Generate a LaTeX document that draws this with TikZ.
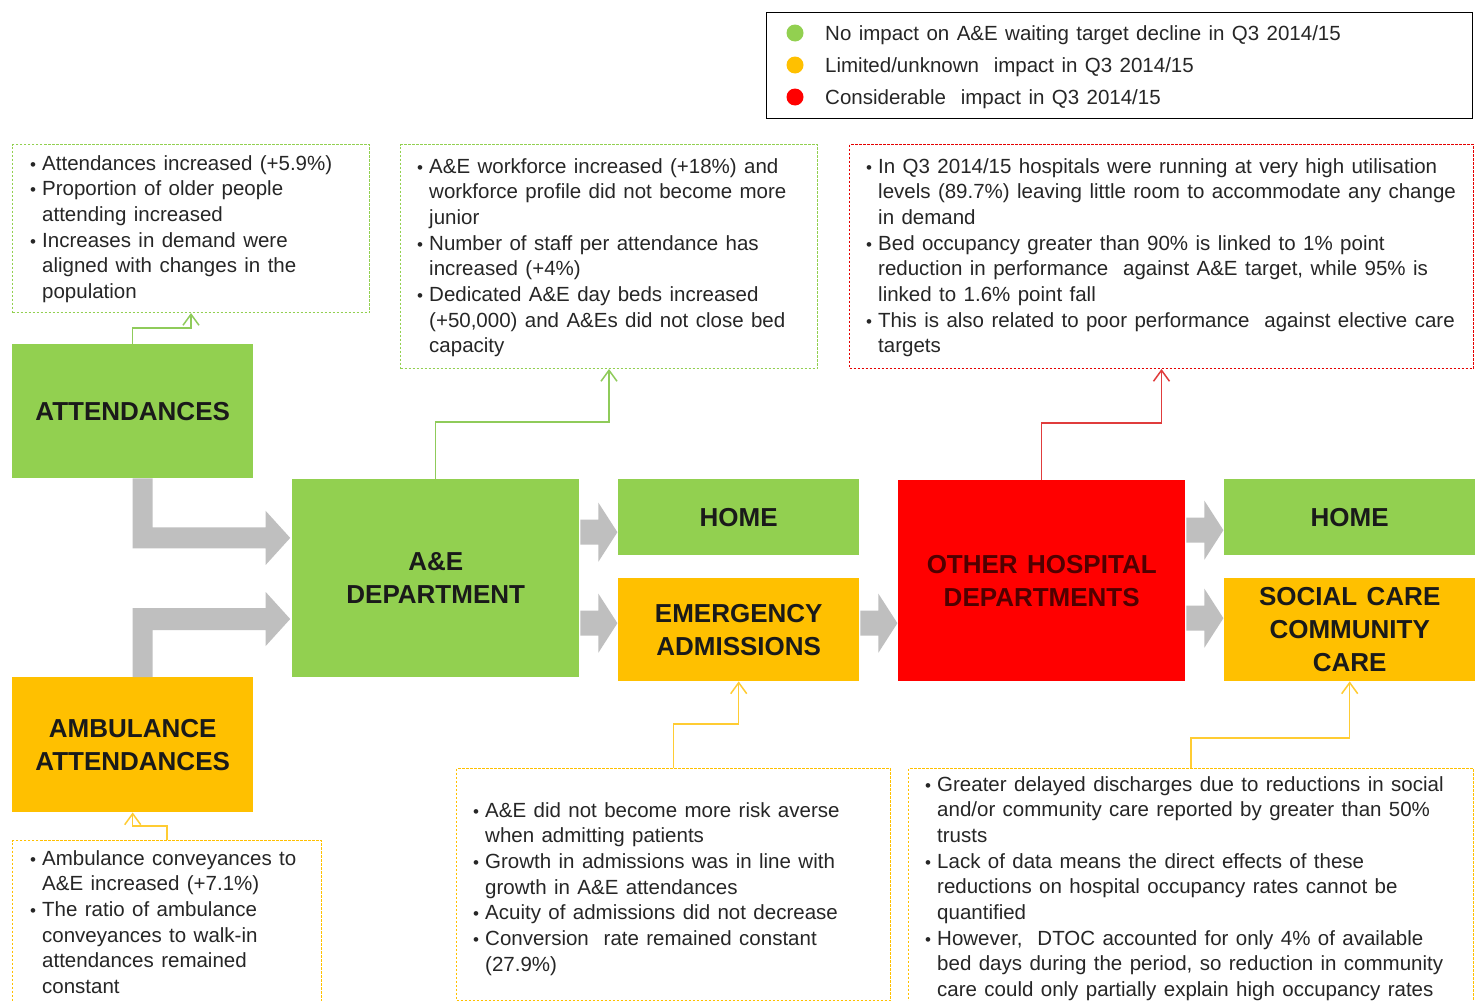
\documentclass[tikz,border=0pt]{standalone}
\usepackage{fontspec}
\setmainfont{Liberation Sans}[WordSpace=1.3]
\usetikzlibrary{arrows.meta}
\definecolor{cgreen}{HTML}{92D050}
\definecolor{camber}{HTML}{FFC000}
\definecolor{cred}{HTML}{FF0000}
\definecolor{cgray}{HTML}{BFBFBF}
\definecolor{ctext}{HTML}{262626}
\definecolor{cdarkred}{HTML}{500000}
\definecolor{cboxtext}{HTML}{1A1A1A}
\definecolor{cgline}{HTML}{8FCB5A}
\definecolor{caline}{HTML}{FFCC33}
\definecolor{crline}{HTML}{E03C3C}
\newcommand{\bul}{\makebox[12pt][l]{\fontsize{17}{17}\selectfont\textbullet}}
\newenvironment{notelist}{\fontsize{20.5}{25.7}\selectfont\color{ctext}\begin{tabular}[t]{@{}l@{}l@{}}}{\end{tabular}}
\newcommand{\shortarr}[1]{\fill[grayarr] (#1) ++(1,-12.5) -- ++(18,0) -- ++(0,-17) -- ++(19,29.5) -- ++(-19,29.5) -- ++(0,-17) -- ++(-18,0) -- cycle;}
\tikzset{
  colbox/.style={anchor=north west, inner sep=0, align=center,
    font=\fontsize{26}{33}\selectfont\bfseries},
  greenbox/.style={colbox, fill=cgreen, text=cboxtext},
  amberbox/.style={colbox, fill=camber, text=cboxtext},
  redbox/.style={colbox, fill=cred, text=cdarkred},
  notebox/.style={anchor=north west, inner sep=0, line width=1pt, dash pattern=on 2.5pt off 1.5pt},
  notegreen/.style={notebox, draw=cgreen},
  noteamber/.style={notebox, draw=camber},
  notered/.style={notebox, draw=cred!90!black},
  notetext/.style={anchor=base west, inner sep=0},
  conn/.style={line width=1.5pt, -{Straight Barb[length=11pt,width=16pt]}},
  gconn/.style={conn, draw=cgline},
  aconn/.style={conn, draw=caline},
  rconn/.style={conn, draw=crline},
  grayarr/.style={fill=cgray},
  legtext/.style={anchor=base west, inner sep=0, text=ctext, font=\fontsize{20.5}{25.7}\selectfont},
  dot/.style={circle, inner sep=0, minimum size=17pt}
}
\begin{document}
\begin{tikzpicture}[x=1pt,y=-1pt]
\useasboundingbox (0,0) rectangle (1475,1001);
\fill[white] (0,0) rectangle (1475,1001);

% legend
\node[anchor=north west, inner sep=0, draw=black, line width=1.2pt, minimum width=706pt, minimum height=106pt] (leg) at (766,12) {};
\node[dot, fill=cgreen] (d1) at (795,33) {};
\node[dot, fill=camber] (d2) at (795,65) {};
\node[dot, fill=cred] (d3) at (795,97) {};
\node[legtext] (l1) at (825,40) {No impact on A\&E waiting target decline in Q3 2014/15};
\node[legtext] (l2) at (825,72) {Limited/unknown \ impact in Q3 2014/15};
\node[legtext] (l3) at (825,104) {Considerable \ impact in Q3 2014/15};

% note frames
\node[notegreen, minimum width=357pt, minimum height=168pt] (n1) at (12,144) {};
\node[notegreen, minimum width=417pt, minimum height=224pt] (n2) at (400,144) {};
\node[notered, minimum width=624pt, minimum height=224pt] (n3) at (849,144) {};
\node[noteamber, minimum width=309pt, minimum height=180pt] (n4) at (12,840) {};
\node[noteamber, minimum width=434pt, minimum height=232pt] (n5) at (456,768) {};
\node[noteamber, minimum width=565pt, minimum height=250pt] (n6) at (908,768) {};

% note texts
\node[notetext] (t1) at (30,170) {\begin{notelist}
\bul & Attendances increased (+5.9\%)\\
\bul & Proportion of older people\\
 & attending increased\\
\bul & Increases in demand were\\
 & aligned with changes in the\\
 & population
\end{notelist}};
\node[notetext] (t2) at (417,173) {\begin{notelist}
\bul & A\&E workforce increased (+18\%) and\\
 & workforce profile did not become more\\
 & junior\\
\bul & Number of staff per attendance has\\
 & increased (+4\%)\\
\bul & Dedicated A\&E day beds increased\\
 & (+50,000) and A\&Es did not close bed\\
 & capacity
\end{notelist}};
\node[notetext] (t3) at (866,173) {\begin{notelist}
\bul & In Q3 2014/15 hospitals were running at very high utilisation\\
 & levels (89.7\%) leaving little room to accommodate any change\\
 & in demand\\
\bul & Bed occupancy greater than 90\% is linked to 1\% point\\
 & reduction in performance \ against A\&E target, while 95\% is\\
 & linked to 1.6\% point fall\\
\bul & This is also related to poor performance \ against elective care\\
 & targets
\end{notelist}};
\node[notetext] (t4) at (30,865) {\begin{notelist}
\bul & Ambulance conveyances to\\
 & A\&E increased (+7.1\%)\\
\bul & The ratio of ambulance\\
 & conveyances to walk-in\\
 & attendances remained\\
 & constant
\end{notelist}};
\node[notetext] (t5) at (473,817) {\begin{notelist}
\bul & A\&E did not become more risk averse\\
 & when admitting patients\\
\bul & Growth in admissions was in line with\\
 & growth in A\&E attendances\\
\bul & Acuity of admissions did not decrease\\
\bul & Conversion \ rate remained constant\\
 & (27.9\%)
\end{notelist}};
\node[notetext] (t6) at (925,791) {\begin{notelist}
\bul & Greater delayed discharges due to reductions in social\\
 & and/or community care reported by greater than 50\%\\
 & trusts\\
\bul & Lack of data means the direct effects of these\\
 & reductions on hospital occupancy rates cannot be\\
 & quantified\\
\bul & However, \ DTOC accounted for only 4\% of available\\
 & bed days during the period, so reduction in community\\
 & care could only partially explain high occupancy rates
\end{notelist}};

% coloured boxes
\node[greenbox, minimum width=241pt, minimum height=134pt] (att) at (12,344) {ATTENDANCES};
\node[greenbox, minimum width=287pt, minimum height=198pt] (ae) at (292,479) {A\&E\\DEPARTMENT};
\node[greenbox, minimum width=241pt, minimum height=76pt] (home1) at (618,479) {HOME};
\node[amberbox, minimum width=241pt, minimum height=103pt] (em) at (618,578) {EMERGENCY\\ADMISSIONS};
\node[redbox, minimum width=287pt, minimum height=201pt] (oth) at (898,480) {OTHER HOSPITAL\\DEPARTMENTS};
\node[greenbox, minimum width=251pt, minimum height=76pt] (home2) at (1224,479) {HOME};
\node[amberbox, minimum width=251pt, minimum height=103pt] (soc) at (1224,578) {SOCIAL CARE\\COMMUNITY\\CARE};
\node[amberbox, minimum width=241pt, minimum height=135pt] (amb) at (12,677) {AMBULANCE\\ATTENDANCES};

% big gray arrows
\fill[grayarr] (att.south) -- ++(20,0) -- ++(0,49) -- ++(113,0) -- ++(0,-16.5) -- ++(24.5,27) -- ++(-24.5,27) -- ++(0,-16.5) -- ++(-133,0) -- cycle;
\fill[grayarr] (amb.north) -- ++(0,-69) -- ++(133,0) -- ++(0,-16) -- ++(24.5,27) -- ++(-24.5,27) -- ++(0,-16) -- ++(-113,0) -- ++(0,47) -- cycle;

% short gray arrows
\shortarr{[yshift=46pt]ae.east}
\shortarr{[yshift=-45pt]ae.east}
\shortarr{[yshift=6.5pt]em.east}
\shortarr{[yshift=50.5pt]oth.east}
\shortarr{[yshift=-37.5pt]oth.east}

% thin connectors
\draw[gconn] (att.north) -- ++(0,-16) -| (n1.south);
\draw[gconn] (ae.north) -- ++(0,-57) -| (n2.south);
\draw[rconn] (oth.north) -- ++(0,-57) -| (n3.south);
\draw[aconn] (n5.north) -- ++(0,-44) -| (em.south);
\draw[aconn] (n6.north) -- ++(0,-30) -| (soc.south);
\draw[aconn] (n4.north) -- ++(0,-14) -| (amb.south);
\end{tikzpicture}
\end{document}
